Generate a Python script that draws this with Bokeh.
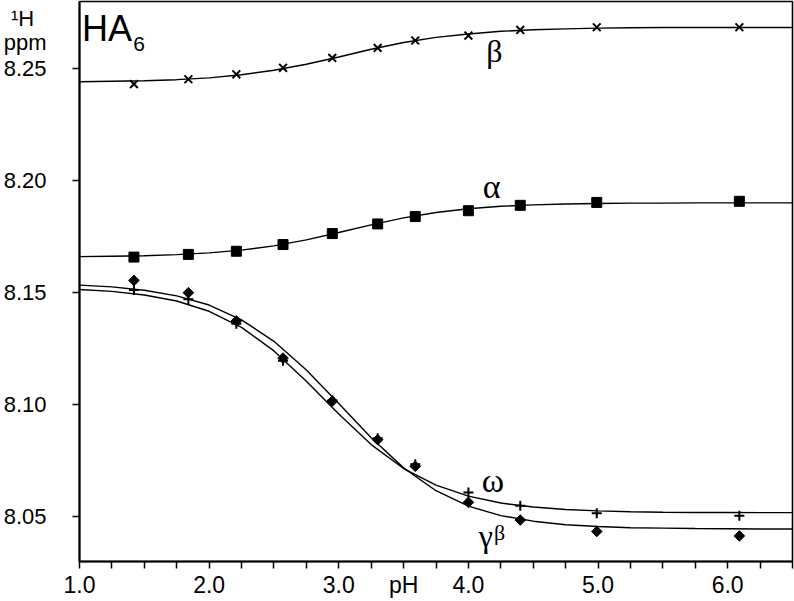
from bokeh.plotting import figure
from bokeh.models import FixedTicker, Label, PrintfTickFormatter, Range1d
from bokeh.embed import file_html
from bokeh.resources import INLINE

# measured points (pH, chemical shift in ppm)
ph_points = [1.42, 1.84, 2.21, 2.57, 2.95, 3.30, 3.59, 4.00, 4.40, 4.99, 6.09]
beta_pts = [8.2431, 8.2453, 8.2475, 8.2504, 8.2548, 8.2593, 8.2626, 8.2648, 8.2673, 8.2685, 8.2685]
alpha_pts = [8.1659, 8.1671, 8.1685, 8.1715, 8.1764, 8.1807, 8.1840, 8.1866, 8.1890, 8.1903, 8.1908]
omega_pts = [8.1512, 8.1471, 8.1361, 8.1196, 8.1019, 8.0850, 8.0734, 8.0608, 8.0549, 8.0515, 8.0504]
gamma_pts = [8.1555, 8.1500, 8.1374, 8.1208, 8.1016, 8.0844, 8.0725, 8.0564, 8.0485, 8.0434, 8.0414]

# fitted curves
ph_fit = [1.0, 1.25, 1.5, 1.75, 2.0, 2.25, 2.5, 2.75, 3.0, 3.25, 3.5, 3.75,
          4.0, 4.25, 4.5, 4.75, 5.0, 5.25, 5.5, 5.75, 6.0, 6.25, 6.5]
beta_fit = [8.2442, 8.2444, 8.2446, 8.2451, 8.2459, 8.2473, 8.2493, 8.2520, 8.2552, 8.2587, 8.2617, 8.2640,
            8.2655, 8.2667, 8.2674, 8.2678, 8.2681, 8.2683, 8.2684, 8.2684, 8.2684, 8.2684, 8.2684]
alpha_fit = [8.1661, 8.1663, 8.1665, 8.1670, 8.1678, 8.1690, 8.1709, 8.1736, 8.1769, 8.1803, 8.1834, 8.1858,
             8.1875, 8.1886, 8.1892, 8.1896, 8.1898, 8.1900, 8.1900, 8.1901, 8.1901, 8.1901, 8.1901]
gamma_fit = [8.1534, 8.1526, 8.1511, 8.1486, 8.1445, 8.1379, 8.1283, 8.1155, 8.1005, 8.0852, 8.0718, 8.0616,
             8.0547, 8.0505, 8.0480, 8.0464, 8.0456, 8.0451, 8.0449, 8.0447, 8.0446, 8.0445, 8.0445]
omega_fit = [8.1514, 8.1506, 8.1490, 8.1463, 8.1417, 8.1345, 8.1240, 8.1105, 8.0958, 8.0822, 8.0715, 8.0641,
             8.0592, 8.0561, 8.0543, 8.0532, 8.0526, 8.0522, 8.0520, 8.0519, 8.0519, 8.0518, 8.0518]

x_major = [1.0, 2.0, 3.0, 3.5, 4.0, 5.0, 6.0]
x_minor = [1.25, 1.5, 1.75, 2.25, 2.5, 2.75, 3.25, 3.75, 4.25, 4.5, 4.75, 5.25, 5.5, 5.75, 6.25, 6.5]
y_ticks = [8.05, 8.10, 8.15, 8.20, 8.25]
y_unit_pos = [8.2618, 8.2724]
y_unit_text = ["ppm", "¹H\u00a0\u00a0"]

p = figure(width=794, height=600, x_range=Range1d(1.0, 6.5), y_range=Range1d(8.03, 8.28),
           output_backend="svg", toolbar_location=None, title=None,
           min_border_left=70, min_border_right=2, min_border_top=1, min_border_bottom=38)
p.background_fill_color = "white"
p.border_fill_color = "white"
p.outline_line_color = "black"
p.outline_line_width = 1.6
p.xgrid.visible = False
p.ygrid.visible = False

for ax in (p.xaxis[0], p.yaxis[0]):
    ax.axis_line_width = 2
    ax.axis_line_color = "black"
    ax.major_tick_line_color = "black"
    ax.minor_tick_line_color = "black"
    ax.major_tick_line_width = 1.5
    ax.minor_tick_line_width = 1.5
    ax.major_tick_in = 0
    ax.minor_tick_in = 0
    ax.minor_tick_out = 7
    ax.major_label_text_font = "Liberation Sans"
    ax.major_label_text_color = "black"

p.xaxis.ticker = FixedTicker(ticks=x_major, minor_ticks=x_minor)
p.xaxis.formatter = PrintfTickFormatter(format="%.1f")
p.xaxis.major_label_overrides = {3.5: "pH"}
p.xaxis.major_tick_out = 7
p.xaxis.major_label_standoff = 3
p.xaxis.major_label_text_font_size = "23px"

# y axis: visible tick marks are drawn as the minor ticks; the unit lines sit above them
p.yaxis.ticker = FixedTicker(ticks=y_ticks + y_unit_pos, minor_ticks=y_ticks)
p.yaxis.formatter = PrintfTickFormatter(format="%.2f")
p.yaxis.major_label_overrides = {y_unit_pos[0]: y_unit_text[0], y_unit_pos[1]: y_unit_text[1]}
p.yaxis.major_tick_out = 0
p.yaxis.major_label_standoff = 26
p.yaxis.major_label_text_font_size = "22px"

lw = 1.4
p.line(ph_fit, beta_fit, line_color="black", line_width=lw)
p.line(ph_fit, alpha_fit, line_color="black", line_width=lw)
p.line(ph_fit, gamma_fit, line_color="black", line_width=lw)
p.line(ph_fit, omega_fit, line_color="black", line_width=lw)

p.scatter(ph_points, beta_pts, marker="x", size=11, line_color="black", line_width=2)
p.scatter(ph_points, alpha_pts, marker="square", size=10, fill_color="black", line_color="black")
p.scatter(ph_points, gamma_pts, marker="square", size=7.5, angle=0.7854, fill_color="black", line_color="black")
p.scatter(ph_points, omega_pts, marker="cross", size=10, line_color="black", line_width=2)

serif = "Liberation Serif"
p.add_layout(Label(x=4.20, y=8.2580, text="β", text_font=serif, text_font_size="32px",
                   text_color="black", text_align="center", text_baseline="middle"))
p.add_layout(Label(x=4.18, y=8.1976, text="α", text_font=serif, text_font_size="34px",
                   text_color="black", text_align="center", text_baseline="middle"))
p.add_layout(Label(x=4.19, y=8.0660, text="ω", text_font=serif, text_font_size="34px",
                   text_color="black", text_align="center", text_baseline="middle"))
p.add_layout(Label(x=4.135, y=8.0412, text="γ", text_font=serif, text_font_size="32px",
                   text_color="black", text_align="center", text_baseline="middle"))
p.add_layout(Label(x=4.24, y=8.0430, text="β", text_font=serif, text_font_size="22px",
                   text_color="black", text_align="center", text_baseline="middle"))

sans = "Liberation Sans"
p.add_layout(Label(x=1.02, y=8.2681, text="HA", text_font=sans, text_font_size="36px",
                   text_color="black", text_align="left", text_baseline="middle"))
p.add_layout(Label(x=1.415, y=8.2610, text="6", text_font=sans, text_font_size="21px",
                   text_color="black", text_align="left", text_baseline="middle"))

open("out.html", "w").write(file_html(p, INLINE))
